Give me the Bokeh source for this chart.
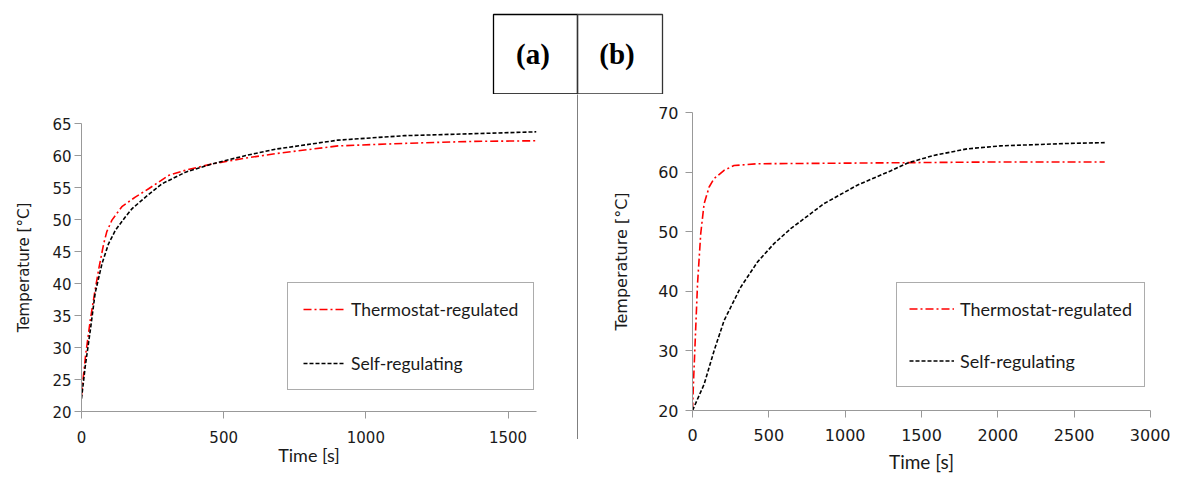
from bokeh.plotting import figure
from bokeh.layouts import column, row
from bokeh.models import Range1d, FixedTicker, Label
from bokeh.embed import file_html
from bokeh.resources import INLINE

# ---------------- data ----------------
# panel (a)
a_thermo_time = [0, 4, 15, 31, 46, 62, 78, 89, 107, 142, 189, 236, 307, 366, 460, 578, 684, 902, 1137, 1373, 1600]
a_thermo_temp = [22.5, 24.4, 29.0, 34.3, 38.5, 42.6, 46.2, 48.1, 49.9, 52.0, 53.5, 54.8, 56.9, 57.7, 58.7, 59.6, 60.3, 61.5, 61.9, 62.2, 62.3]
a_self_time = [0, 13, 31, 48, 72, 95, 119, 154, 178, 225, 284, 366, 460, 578, 684, 902, 1137, 1373, 1600]
a_self_temp = [22.0, 27.0, 32.7, 38.5, 43.1, 46.2, 48.3, 50.4, 51.7, 53.5, 55.6, 57.4, 58.7, 60.0, 61.0, 62.4, 63.1, 63.4, 63.7]

# panel (b)
b_thermo_time = [0, 6, 15, 33, 54, 76, 109, 141, 207, 272, 425, 1000, 1500, 2000, 2700]
b_thermo_temp = [20.0, 24.4, 30.0, 41.3, 49.7, 54.7, 57.5, 58.9, 60.3, 61.1, 61.4, 61.5, 61.6, 61.7, 61.7]
b_self_time = [0, 76, 141, 207, 316, 425, 534, 643, 861, 1079, 1297, 1406, 1580, 1799, 2017, 2235, 2453, 2700]
b_self_temp = [20.0, 24.4, 30.0, 35.1, 40.7, 44.9, 48.0, 50.5, 54.7, 57.8, 60.2, 61.5, 62.8, 63.9, 64.4, 64.6, 64.8, 64.95]

a_xticks = [0, 500, 1000, 1500]
a_yticks = [20, 25, 30, 35, 40, 45, 50, 55, 60, 65]
b_xticks = [0, 500, 1000, 1500, 2000, 2500, 3000]
b_yticks = [20, 30, 40, 50, 60, 70]

series_names = ["Thermostat-regulated", "Self-regulating"]
panel_tags = ["(a)", "(b)"]
x_title = "Time [s]"
y_title = "Temperature [°C]"

AXIS_GRAY = "#999999"
TEXT = "#1a1a1a"


def make_panel(width, height, borders, x_end, y_range, xticks, yticks,
               thermo, selfreg, tick_px, title_px, legend_px, legend_loc,
               legend_pad, legend_item_h, legend_spacing, legend_glyph_w,
               ylab_standoff, ylabel_std_major, xlabel_std_major, xlab_standoff):
    p = figure(width=width, height=height, title=None,
               x_range=Range1d(0, x_end), y_range=Range1d(*y_range),
               toolbar_location=None, output_backend="svg",
               min_border_left=borders[0], min_border_right=borders[1],
               min_border_top=borders[2], min_border_bottom=borders[3])
    p.grid.visible = False
    p.outline_line_color = None
    p.background_fill_color = "white"
    p.border_fill_color = "white"

    p.line(thermo[0], thermo[1], line_color="#ff0000", line_width=1.6,
           line_dash="8 3 2 3", legend_label=series_names[0])
    p.line(selfreg[0], selfreg[1], line_color="black", line_width=1.6,
           line_dash="4 2", legend_label=series_names[1])

    for ax in (p.xaxis[0], p.yaxis[0]):
        ax.axis_line_color = AXIS_GRAY
        ax.major_tick_line_color = AXIS_GRAY
        ax.minor_tick_line_color = None
        ax.major_tick_in = 0
        ax.major_tick_out = 7
        ax.major_label_text_font = "DejaVu Sans"
        ax.major_label_text_font_size = tick_px
        ax.major_label_text_color = TEXT
        ax.axis_label_text_font_style = "normal"
        ax.axis_label_text_color = TEXT

    p.xaxis.ticker = FixedTicker(ticks=xticks)
    p.yaxis.ticker = FixedTicker(ticks=yticks)
    p.xaxis.major_label_standoff = xlabel_std_major
    p.yaxis.major_label_standoff = ylabel_std_major

    p.xaxis.axis_label = x_title
    p.xaxis.axis_label_text_font = "Lato"
    p.xaxis.axis_label_text_font_size = title_px[0]
    p.xaxis.axis_label_standoff = xlab_standoff

    p.yaxis.axis_label = y_title
    p.yaxis.axis_label_text_font = "DejaVu Sans"
    p.yaxis.axis_label_text_font_size = title_px[1]
    p.yaxis.axis_label_standoff = ylab_standoff

    leg = p.legend[0]
    leg.location = legend_loc
    leg.margin = 0
    leg.padding = legend_pad
    leg.spacing = legend_spacing
    leg.label_height = legend_item_h
    leg.glyph_height = legend_item_h
    leg.glyph_width = legend_glyph_w
    leg.label_standoff = 6
    leg.label_text_font = "Lato"
    leg.label_text_font_size = legend_px
    leg.label_text_color = TEXT
    leg.border_line_color = "#595959"
    leg.border_line_width = 1
    leg.background_fill_color = "white"
    leg.background_fill_alpha = 1.0
    return p


pa = make_panel(577, 382, (81, 41, 29, 65), 1600, (20, 65), a_xticks, a_yticks,
                (a_thermo_time, a_thermo_temp), (a_self_time, a_self_temp),
                "15px", ("18px", "15px"), "17.5px", (206, 21),
                15, 22, 32, 42, 16, 3, 12, -2)

pb = make_panel(592, 382, (114, 20, 18, 66), 3000, (20, 70), b_xticks, b_yticks,
                (b_thermo_time, b_thermo_temp), (b_self_time, b_self_temp),
                "16px", ("19px", "16px"), "18px", (204, 23),
                12, 27, 25, 45, 24, 7, 11, 6)

# separator line between the two panels
sep = figure(width=1, height=345, toolbar_location=None, output_backend="svg",
             x_axis_type=None, y_axis_type=None, min_border=0, title=None,
             background_fill_color="black", border_fill_color="black",
             outline_line_color=None)

# header with the boxed panel tags
header = figure(width=1170, height=94, toolbar_location=None, output_backend="svg",
                x_range=Range1d(0, 1170), y_range=Range1d(94, 0), title=None,
                x_axis_type=None, y_axis_type=None, min_border=0,
                outline_line_color=None)
header.grid.visible = False
header.quad(left=[493, 577], right=[577, 662], top=[14, 14], bottom=[93.5, 93.5],
            fill_color=None, line_color=["black", "#333333"], line_width=1.3)
for tag, xc in zip(panel_tags, [532.5, 616.5]):
    header.add_layout(Label(x=xc, y=53, text=tag, text_align="center",
                            text_baseline="middle", text_font="Liberation Serif",
                            text_font_style="bold", text_font_size="29px",
                            text_color="black"))

layout = column(header, row(column(pa), sep, column(pb), spacing=0), spacing=0)

open("out.html", "w").write(file_html(layout, INLINE))
